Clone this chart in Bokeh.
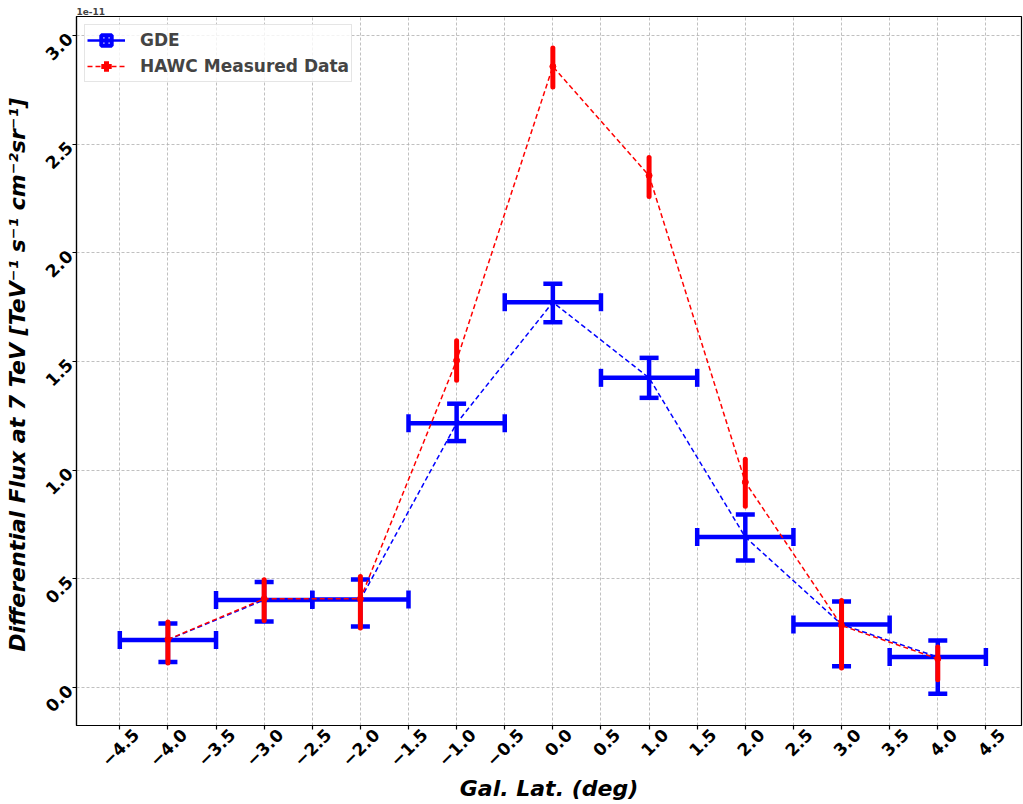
import math
from bokeh.plotting import figure
from bokeh.models import (ColumnDataSource, FixedTicker, CustomJSTickFormatter,
                          Legend, LegendItem, Range1d, LinearAxis)
from bokeh.embed import file_html
from bokeh.resources import INLINE

# ---------------- data (flux in units of 1e-11 TeV^-1 s^-1 cm^-2 sr^-1) -----------
lat = [-4.0, -3.0, -2.0, -1.0, 0.0, 1.0, 2.0, 3.0, 4.0]
lat_halfwidth = [0.5, 0.5, 0.5, 0.5, 0.5, 0.5, 0.5, 0.5, 0.5]

gde_flux = [0.219, 0.403, 0.405, 1.216, 1.773, 1.425, 0.692, 0.290, 0.140]
gde_err_up = [0.076, 0.082, 0.092, 0.090, 0.085, 0.092, 0.104, 0.106, 0.076]
gde_err_down = [0.102, 0.099, 0.124, 0.082, 0.092, 0.092, 0.108, 0.192, 0.169]

hawc_flux = [0.221, 0.408, 0.408, 1.505, 2.858, 2.356, 0.945, 0.285, 0.132]
hawc_err_up = [0.080, 0.088, 0.103, 0.091, 0.085, 0.083, 0.105, 0.115, 0.054]
hawc_err_down = [0.108, 0.100, 0.134, 0.091, 0.094, 0.096, 0.111, 0.195, 0.096]

x_ticks = [-4.5, -4.0, -3.5, -3.0, -2.5, -2.0, -1.5, -1.0, -0.5, 0.0,
           0.5, 1.0, 1.5, 2.0, 2.5, 3.0, 3.5, 4.0, 4.5]
y_ticks = [0.0, 0.5, 1.0, 1.5, 2.0, 2.5, 3.0]

x_limits = (-4.95, 4.87)
y_limits = (-0.175, 3.088)
label_shift = 0.165   # data-unit shift so rotated x tick labels sit centred under ticks

# ---------------- derived sources ----------------
gde = ColumnDataSource(dict(
    x=lat, y=gde_flux,
    xl=[a - w for a, w in zip(lat, lat_halfwidth)],
    xr=[a + w for a, w in zip(lat, lat_halfwidth)],
    yu=[v + e for v, e in zip(gde_flux, gde_err_up)],
    yd=[v - e for v, e in zip(gde_flux, gde_err_down)],
))
hawc = ColumnDataSource(dict(
    x=lat, y=hawc_flux,
    yu=[v + e for v, e in zip(hawc_flux, hawc_err_up)],
    yd=[v - e for v, e in zip(hawc_flux, hawc_err_down)],
))

FONT = "DejaVu Sans"
BLUE = "#0000ff"
RED = "#ff0000"
TICK_FS = "17px"

p = figure(width=1023, height=804, output_backend="svg", toolbar_location=None,
           x_range=Range1d(*x_limits), y_range=Range1d(*y_limits),
           min_border_left=76, min_border_right=2, min_border_top=16,
           min_border_bottom=79, background_fill_color="white",
           border_fill_color="white")
p.extra_x_ranges = {"lbl": Range1d(x_limits[0] - label_shift, x_limits[1] - label_shift)}

p.title.text = "1e-11"
p.title.text_font = FONT
p.title.text_font_size = "9px"
p.title.text_font_style = "bold"
p.title.align = "left"
p.title.standoff = 3

p.outline_line_color = "black"
p.outline_line_width = 1.2

# grid
for g in (p.xgrid, p.ygrid):
    g.grid_line_color = "#b0b0b0"
    g.grid_line_dash = "3 2"
    g.grid_line_width = 0.8
p.xgrid.ticker = FixedTicker(ticks=x_ticks)
p.ygrid.ticker = FixedTicker(ticks=y_ticks)

fmt = CustomJSTickFormatter(code="return tick.toFixed(1).replace('-', '\\u2212');")

# main x axis: ticks only
xa = p.xaxis[0]
xa.ticker = FixedTicker(ticks=x_ticks)
xa.formatter = CustomJSTickFormatter(code="return '';")
xa.major_label_text_font_size = "1px"
xa.major_label_standoff = 0
xa.major_tick_out = 4
xa.major_tick_in = 0
xa.minor_tick_out = 0
xa.minor_tick_in = 0
xa.axis_line_color = "black"
xa.axis_line_width = 1.2
xa.major_tick_line_width = 1.2

# label axis (shifted so the rotated labels are centred below each tick)
xl_axis = LinearAxis(x_range_name="lbl", ticker=FixedTicker(ticks=x_ticks), formatter=fmt,
                     axis_line_color=None, major_tick_line_color=None,
                     minor_tick_line_color=None, major_tick_out=0, major_tick_in=0,
                     minor_tick_out=0, minor_tick_in=0)
xl_axis.major_label_orientation = math.pi / 4
xl_axis.major_label_standoff = 2
xl_axis.major_label_text_font = FONT
xl_axis.major_label_text_font_size = TICK_FS
xl_axis.major_label_text_font_style = "bold"
xl_axis.major_label_text_color = "black"
xl_axis.axis_label = "Gal. Lat. (deg)"
xl_axis.axis_label_text_font = FONT
xl_axis.axis_label_text_font_size = "22px"
xl_axis.axis_label_text_font_style = "bold italic"
xl_axis.axis_label_text_color = "black"
xl_axis.axis_label_standoff = 1
p.add_layout(xl_axis, "below")

ya = p.yaxis[0]
ya.ticker = FixedTicker(ticks=y_ticks)
ya.formatter = fmt
ya.major_label_orientation = math.pi / 4
ya.major_label_text_font = FONT
ya.major_label_text_font_size = TICK_FS
ya.major_label_text_font_style = "bold"
ya.major_label_text_color = "black"
ya.major_label_standoff = 3
ya.axis_label = "Differential Flux at 7 TeV  [TeV\u207b\u00b9 s\u207b\u00b9 cm\u207b\u00b2sr\u207b\u00b9]"
ya.axis_label_text_font = FONT
ya.axis_label_text_font_size = "22px"
ya.axis_label_text_font_style = "bold italic"
ya.axis_label_text_color = "black"
ya.axis_label_standoff = 6
ya.major_tick_out = 4
ya.major_tick_in = 0
ya.minor_tick_out = 0
ya.minor_tick_in = 0
ya.axis_line_color = "black"
ya.axis_line_width = 1.2
ya.major_tick_line_width = 1.2

# GDE error bars
p.segment(x0="xl", y0="y", x1="xr", y1="y", source=gde, line_color=BLUE, line_width=4.5)
p.segment(x0="x", y0="yd", x1="x", y1="yu", source=gde, line_color=BLUE, line_width=4.5)
p.scatter(x="x", y="yu", source=gde, marker="dash", size=19, line_color=BLUE, line_width=4.5)
p.scatter(x="x", y="yd", source=gde, marker="dash", size=19, line_color=BLUE, line_width=4.5)
p.scatter(x="xl", y="y", source=gde, marker="dash", angle=math.pi / 2, size=18,
          line_color=BLUE, line_width=4.5)
p.scatter(x="xr", y="y", source=gde, marker="dash", angle=math.pi / 2, size=18,
          line_color=BLUE, line_width=4.5)
p.line(x="x", y="y", source=gde, line_color=BLUE, line_width=1.5, line_dash="5 3")

# HAWC error bars
p.segment(x0="x", y0="yd", x1="x", y1="yu", source=hawc, line_color=RED, line_width=5,
          line_cap="round")
p.line(x="x", y="y", source=hawc, line_color=RED, line_width=1.5, line_dash="5 3")
p.scatter(x="x", y="y", source=hawc, marker="circle", size=6, fill_color=RED, line_color=RED)

# legend-only renderers (a single NaN point: nothing is drawn in the plot area)
nan_src = lambda: ColumnDataSource(dict(x=[float("nan")], y=[float("nan")]))
leg_gde_line = p.line(x="x", y="y", source=nan_src(), line_color=BLUE, line_width=2.5)
leg_gde_mark = p.scatter(x="x", y="y", source=nan_src(), marker="square_cross",
                         size=16, fill_color="white", line_color=BLUE, line_width=4)
leg_hawc_line = p.line(x="x", y="y", source=nan_src(), line_color=RED,
                       line_width=1.5, line_dash="5 3")
leg_hawc_mark = p.scatter(x="x", y="y", source=nan_src(), marker="cross",
                          size=20, line_color=RED, line_width=5)

legend = Legend(items=[
    LegendItem(label="GDE", renderers=[leg_gde_line, leg_gde_mark]),
    LegendItem(label="HAWC Measured Data", renderers=[leg_hawc_line, leg_hawc_mark]),
], location="top_left")
legend.label_text_font = FONT
legend.label_text_font_size = "17px"
legend.label_text_font_style = "bold"
legend.glyph_width = 38
legend.glyph_height = 26
legend.label_standoff = 15
legend.spacing = 0
legend.padding = 2
legend.margin = 8
legend.border_line_color = "#cccccc"
legend.border_line_width = 1
legend.background_fill_alpha = 0.8
p.add_layout(legend)

open("out.html", "w").write(file_html(p, INLINE))
